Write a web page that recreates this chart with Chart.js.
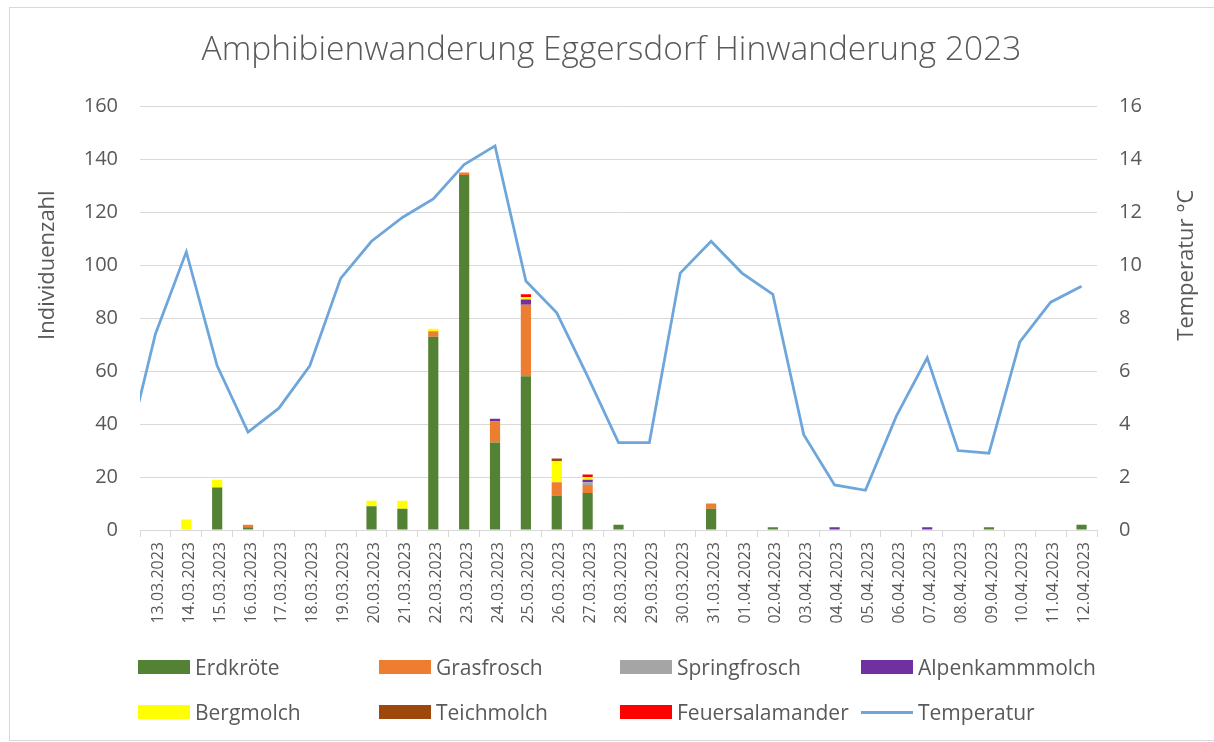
<!DOCTYPE html>
<html lang="de">
<head>
<meta charset="utf-8">
<title>Amphibienwanderung Eggersdorf Hinwanderung 2023</title>
<script src="https://cdn.jsdelivr.net/npm/chart.js@4.4.0/dist/chart.umd.min.js"></script>
<style>
  html, body { margin: 0; padding: 0; background: #fff; }
  #wrap { position: relative; width: 1214px; height: 742px; font-family: "Open Sans", sans-serif; overflow: hidden; }
  #frame { position: absolute; left: 9px; top: 7px; width: 1210px; height: 732px; border: 1px solid #d9d9d9; }
  #chart { position: absolute; left: 0; top: 0; }
  #legend { position: absolute; left: 138px; top: 652px; display: grid; grid-template-columns: repeat(4, 241px); grid-auto-rows: 45px; }
  .legend-item { display: flex; align-items: center; height: 30px; font-size: 21px; color: #595959; white-space: nowrap; }
  .legend-box { width: 52px; height: 14px; margin-right: 5px; flex: none; }
  .legend-line { width: 52px; height: 3px; margin-right: 5px; flex: none; }
</style>
</head>
<body>
<div id="wrap">
  <div id="frame"></div>
  <canvas id="chart" width="1214" height="742"></canvas>
  <div id="legend"></div>
</div>
<script>
// Kategorien (Tage)
const labels = [
  '13.03.2023', '14.03.2023', '15.03.2023', '16.03.2023', '17.03.2023', '18.03.2023',
  '19.03.2023', '20.03.2023', '21.03.2023', '22.03.2023', '23.03.2023', '24.03.2023',
  '25.03.2023', '26.03.2023', '27.03.2023', '28.03.2023', '29.03.2023', '30.03.2023',
  '31.03.2023', '01.04.2023', '02.04.2023', '03.04.2023', '04.04.2023', '05.04.2023',
  '06.04.2023', '07.04.2023', '08.04.2023', '09.04.2023', '10.04.2023', '11.04.2023',
  '12.04.2023'
];

// Individuen pro Art
const erdkroete       = [0, 0, 16, 1, 0, 0, 0, 9, 8, 73, 134, 33, 58, 13, 14, 2, 0, 0, 8, 0, 1, 0, 0, 0, 0, 0, 0, 1, 0, 0, 2];
const grasfrosch      = [0, 0, 0, 1, 0, 0, 0, 0, 0, 2, 1, 8, 27, 5, 3, 0, 0, 0, 2, 0, 0, 0, 0, 0, 0, 0, 0, 0, 0, 0, 0];
const springfrosch    = [0, 0, 0, 0, 0, 0, 0, 0, 0, 0, 0, 0, 0, 0, 1, 0, 0, 0, 0, 0, 0, 0, 0, 0, 0, 0, 0, 0, 0, 0, 0];
const alpenkammmolch  = [0, 0, 0, 0, 0, 0, 0, 0, 0, 0, 0, 1, 2, 0, 1, 0, 0, 0, 0, 0, 0, 0, 1, 0, 0, 1, 0, 0, 0, 0, 0];
const bergmolch       = [0, 4, 3, 0, 0, 0, 0, 2, 3, 1, 0, 0, 1, 8, 1, 0, 0, 0, 0, 0, 0, 0, 0, 0, 0, 0, 0, 0, 0, 0, 0];
const teichmolch      = [0, 0, 0, 0, 0, 0, 0, 0, 0, 0, 0, 0, 0, 1, 0, 0, 0, 0, 0, 0, 0, 0, 0, 0, 0, 0, 0, 0, 0, 0, 0];
const feuersalamander = [0, 0, 0, 0, 0, 0, 0, 0, 0, 0, 0, 0, 1, 0, 1, 0, 0, 0, 0, 0, 0, 0, 0, 0, 0, 0, 0, 0, 0, 0, 0];

// Temperatur in °C, Messreihe beginnt am 12.03. (Tag vor der ersten Kategorie, links angeschnitten)
const temperaturStartIndex = -1;
const temperatur = [2.6, 7.4, 10.5, 6.2, 3.7, 4.6, 6.2, 9.5, 10.9, 11.8, 12.5, 13.8, 14.5, 9.4, 8.2, 5.8,
  3.3, 3.3, 9.7, 10.9, 9.7, 8.9, 3.6, 1.7, 1.5, 4.3, 6.5, 3.0, 2.9, 7.1, 8.6, 9.2];

// Achsenbeschriftung
const countTicks = [0, 20, 40, 60, 80, 100, 120, 140, 160];
const tempTicks = [0, 2, 4, 6, 8, 10, 12, 14, 16];
const titelLinks = 'Individuenzahl';
const titelRechts = 'Temperatur °C';

const textColor = '#595959';
const gridColor = '#d9d9d9';

Chart.defaults.font.family = "'Open Sans', sans-serif";
Chart.defaults.color = textColor;

function barSet(label, data, color) {
  return {
    type: 'bar',
    label: label,
    data: data,
    backgroundColor: color,
    borderWidth: 0,
    xAxisID: 'x',
    yAxisID: 'y',
    grouped: false,
    categoryPercentage: 1,
    barPercentage: 0.33,
    order: 1
  };
}

const datasets = [
  barSet('Erdkröte', erdkroete, '#548235'),
  barSet('Grasfrosch', grasfrosch, '#ED7D31'),
  barSet('Springfrosch', springfrosch, '#A5A5A5'),
  barSet('Alpenkammmolch', alpenkammmolch, '#7030A0'),
  barSet('Bergmolch', bergmolch, '#FFFF00'),
  barSet('Teichmolch', teichmolch, '#9E480E'),
  barSet('Feuersalamander', feuersalamander, '#FF0000'),
  {
    type: 'line',
    label: 'Temperatur',
    data: temperatur.map((t, i) => ({ x: i + temperaturStartIndex, y: t })),
    borderColor: '#6EA6DC',
    backgroundColor: '#6EA6DC',
    borderWidth: 2.75,
    pointRadius: 0,
    tension: 0,
    xAxisID: 'xT',
    yAxisID: 'y1',
    order: 0
  }
];

// Achsentitel wie in Excel: beide von unten nach oben, etwas oberhalb der Mitte
const axisTitlePlugin = {
  id: 'axisTitles',
  afterDraw(chart) {
    const { ctx, chartArea } = chart;
    const cy = chartArea.top + (chartArea.bottom - chartArea.top) * 0.375;
    ctx.save();
    ctx.fillStyle = textColor;
    ctx.font = "22px 'Open Sans', sans-serif";
    ctx.textAlign = 'center';
    ctx.textBaseline = 'middle';
    [[48, titelLinks], [1187, titelRechts]].forEach(([x, text]) => {
      ctx.save();
      ctx.translate(x, cy);
      ctx.rotate(-Math.PI / 2);
      ctx.fillText(text, 0, 0);
      ctx.restore();
    });
    ctx.restore();
  }
};

const chart = new Chart(document.getElementById('chart'), {
  type: 'bar',
  data: { labels: labels, datasets: datasets },
  plugins: [axisTitlePlugin],
  options: {
    responsive: false,
    animation: false,
    layout: { padding: { top: 11, left: 20, right: 11, bottom: 102 } },
    plugins: {
      legend: { display: false },
      tooltip: { enabled: false },
      title: {
        display: true,
        text: 'Amphibienwanderung Eggersdorf Hinwanderung 2023',
        color: textColor,
        font: { size: 33.5, weight: '300' },
        padding: { top: 19, bottom: 36 }
      }
    },
    scales: {
      x: {
        type: 'category',
        stacked: true,
        offset: true,
        grid: { offset: true, drawOnChartArea: false, drawTicks: true, tickLength: 7, color: gridColor },
        border: { display: true, color: gridColor },
        ticks: { autoSkip: false, minRotation: 90, maxRotation: 90, padding: 5, labelOffset: 3, font: { size: 16 }, color: textColor },
        afterFit(scale) { scale.height = 110; }
      },
      xT: {
        type: 'linear',
        display: false,
        offset: false,
        min: -0.5,
        max: labels.length - 0.5
      },
      y: {
        position: 'left',
        stacked: true,
        min: countTicks[0],
        max: countTicks[countTicks.length - 1],
        afterBuildTicks(scale) { scale.ticks = countTicks.map(v => ({ value: v })); },
        grid: { color: gridColor, drawTicks: false, lineWidth: 1 },
        border: { display: false },
        ticks: { padding: 22, font: { size: 20 }, color: textColor },
        afterFit(scale) { scale.width = 120; }
      },
      y1: {
        position: 'right',
        min: tempTicks[0],
        max: tempTicks[tempTicks.length - 1],
        afterBuildTicks(scale) { scale.ticks = tempTicks.map(v => ({ value: v })); },
        grid: { drawOnChartArea: false, drawTicks: false },
        border: { display: false },
        ticks: { padding: 22, font: { size: 20 }, color: textColor },
        afterFit(scale) { scale.width = 106; }
      }
    }
  }
});

// HTML-Legende in festen Spalten (wie im Original)
function buildLegend() {
  const box = document.getElementById('legend');
  chart.data.datasets.forEach(ds => {
    const item = document.createElement('div');
    item.className = 'legend-item';
    const mark = document.createElement('span');
    mark.className = ds.type === 'line' ? 'legend-line' : 'legend-box';
    mark.style.background = ds.type === 'line' ? ds.borderColor : ds.backgroundColor;
    const text = document.createElement('span');
    text.textContent = ds.label;
    item.appendChild(mark);
    item.appendChild(text);
    box.appendChild(item);
  });
}

buildLegend();
</script>
</body>
</html>
